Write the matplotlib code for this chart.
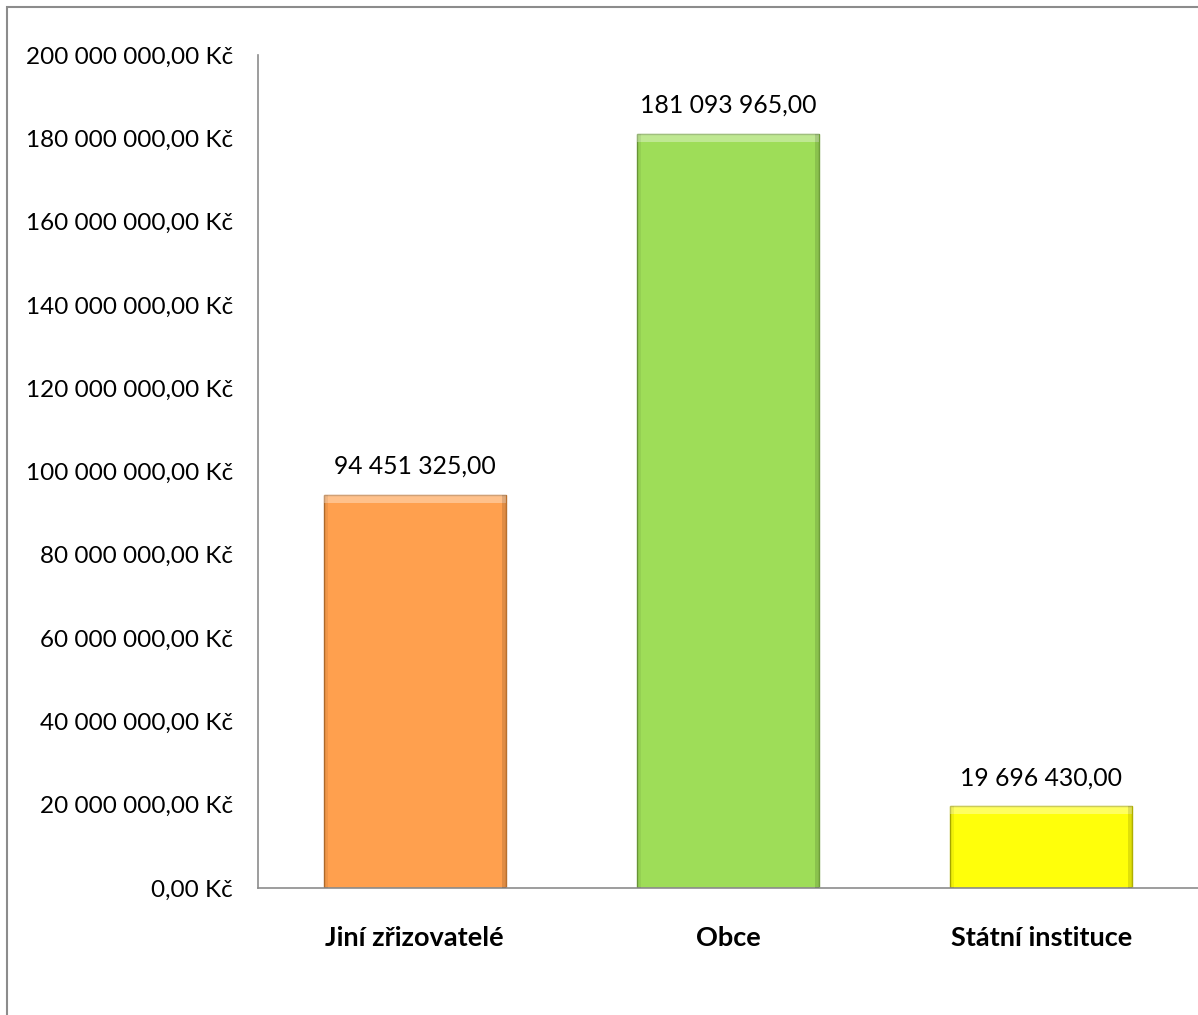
import matplotlib.pyplot as plt
import matplotlib.patches as mpatches
from matplotlib.ticker import FuncFormatter

categories = ['Jiní zřizovatelé', 'Obce', 'Státní instituce']
values = [94451325.00, 181093965.00, 19696430.00]
colors = ['#FFA04E', '#9EDD58', '#FFFF0A']
edge_colors = ['#B8702E', '#6E9E3A', '#B0B000']


def czk(v):
    return f"{v:,.2f}".replace(',', ' ').replace('.', ',')


plt.rcParams['font.family'] = ['Lato', 'DejaVu Sans']

fig = plt.figure(figsize=(11.98, 10.15), dpi=100)
ax = fig.add_axes([258 / 1198, 1 - 888 / 1015, 1 - 258 / 1198, (888 - 55) / 1015])

x = range(len(categories))
bars = ax.bar(x, values, width=0.58, color=colors, edgecolor=edge_colors, linewidth=1.0, zorder=2)

# bevel: light strip on top, darker strips on the sides
for b in bars:
    cx = b.get_x() + b.get_width() / 2
    ax.bar(cx, 2.0e6, bottom=b.get_height() - 2.0e6, width=b.get_width(),
           color='white', alpha=0.35, linewidth=0, zorder=3)
    ax.bar(b.get_x() + b.get_width() - 0.006, b.get_height(), width=0.012,
           color='black', alpha=0.12, linewidth=0, zorder=3)
    ax.bar(b.get_x() + 0.006, b.get_height(), width=0.012,
           color='black', alpha=0.06, linewidth=0, zorder=3)

ax.set_ylim(0, 200000000)
ax.set_xlim(-0.5, 2.5)
ax.set_yticks(range(0, 200000001, 20000000))
ax.yaxis.set_major_formatter(FuncFormatter(lambda v, p: czk(v) + ' Kč'))
ax.tick_params(axis='y', length=0, pad=18, labelsize=17.5)
ax.tick_params(axis='x', length=0, pad=27, labelsize=19.5)
ax.set_xticks(list(x))
ax.set_xticklabels(categories, fontweight='bold')

for s in ['top', 'right']:
    ax.spines[s].set_visible(False)
for s in ['left', 'bottom']:
    ax.spines[s].set_color('#8c8c8c')
    ax.spines[s].set_linewidth(1.2)

for b, v in zip(bars, values):
    ax.annotate(czk(v), (b.get_x() + b.get_width() / 2, v), xytext=(0, 12),
                textcoords='offset points', ha='center', va='bottom', fontsize=17.8)

# outer chart frame
frame = mpatches.Rectangle((7 / 1198, -0.1), 1.2, 1 - 7 / 1015 + 0.1, transform=fig.transFigure,
                           fill=False, edgecolor='#8c8c8c', linewidth=1.5)
fig.patches.append(frame)

fig.savefig('out.png', dpi=100)
